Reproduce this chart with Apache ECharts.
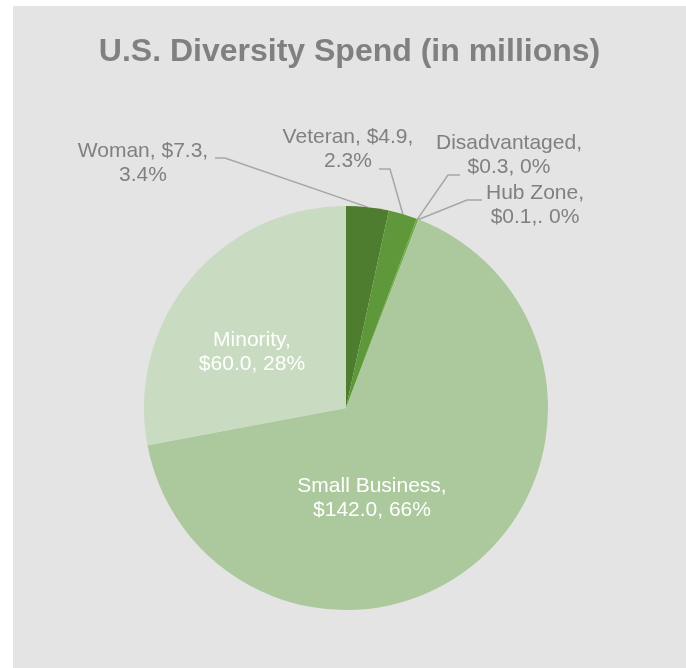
<!DOCTYPE html>
<html>
<head>
<meta charset="utf-8">
<script src="https://cdn.jsdelivr.net/npm/echarts@6/dist/echarts.min.js"></script>
<style>
    body { margin: 0; background: #fff; }
    #chart { position: absolute; left: 13px; top: 6px; width: 673px; height: 662px; }
</style>
</head>
<body>
<div id="chart"></div>
<script type="text/javascript">
    // 数据
    var names = ['Woman', 'Veteran', 'Disadvantaged', 'Hub Zone', 'Small Business', 'Minority'];
    var values = [7.3, 4.9, 0.3, 0.1, 142.0, 60.0];
    var labelTexts = [
        'Woman, $7.3,\n3.4%',
        'Veteran, $4.9,\n2.3%',
        'Disadvantaged,\n$0.3, 0%',
        'Hub Zone,\n$0.1,. 0%',
        'Small Business,\n$142.0, 66%',
        'Minority,\n$60.0, 28%'
    ];
    var colors = ['#4e7d2f', '#5e983a', '#6fab46', '#8bbd6c', '#abc99c', '#c9dbc0'];
    var inside = [false, false, false, false, true, true];

    // 标签位置 (图表坐标)
    var labelPos = [[130, 157], [335, 143], [496, 149], [522, 199], [359, 492], [239, 346]];
    var linePts = [
        [[212, 152], [202, 152]],
        [[377, 163], [366, 163]],
        [[435, 169], [447, 169]],
        [[454, 194], [469, 194]],
        null, null
    ];

    var myChart = echarts.init(document.getElementById('chart'));
    var data = names.map(function (n, i) {
        var item = {
            name: n,
            value: values[i],
            itemStyle: { color: colors[i] }
        };
        if (inside[i]) {
            item.label = { position: 'inside', color: '#ffffff' };
            item.labelLine = { show: false };
        }
        return item;
    });

    var option = {
        backgroundColor: '#e4e4e4',
        animation: false,
        title: {
            text: 'U.S. Diversity Spend (in millions)',
            left: 'center',
            top: 25,
            textStyle: {
                color: '#808080',
                fontSize: 32,
                fontWeight: 'bold',
                fontFamily: 'Liberation Sans, Arial, sans-serif'
            }
        },
        series: [{
            type: 'pie',
            center: [333, 402],
            radius: 202,
            startAngle: 90,
            clockwise: true,
            avoidLabelOverlap: false,
            silent: true,
            itemStyle: { borderWidth: 0 },
            label: {
                show: true,
                position: 'outside',
                formatter: function (p) { return labelTexts[p.dataIndex]; },
                color: '#808080',
                fontSize: 21,
                lineHeight: 24,
                align: 'center',
                fontFamily: 'Liberation Sans, Arial, sans-serif'
            },
            labelLine: {
                show: true,
                length: 10,
                length2: 10,
                lineStyle: { color: '#a6a6a6', width: 1.5 }
            },
            labelLayout: function (params) {
                var i = params.dataIndex;
                var res = {
                    x: labelPos[i][0],
                    y: labelPos[i][1],
                    align: 'center',
                    verticalAlign: 'middle'
                };
                if (linePts[i] && params.labelLinePoints) {
                    res.labelLinePoints = [
                        params.labelLinePoints[0],
                        linePts[i][0],
                        linePts[i][1]
                    ];
                }
                return res;
            },
            data: data
        }]
    };
    myChart.setOption(option);
</script>
</body>
</html>
